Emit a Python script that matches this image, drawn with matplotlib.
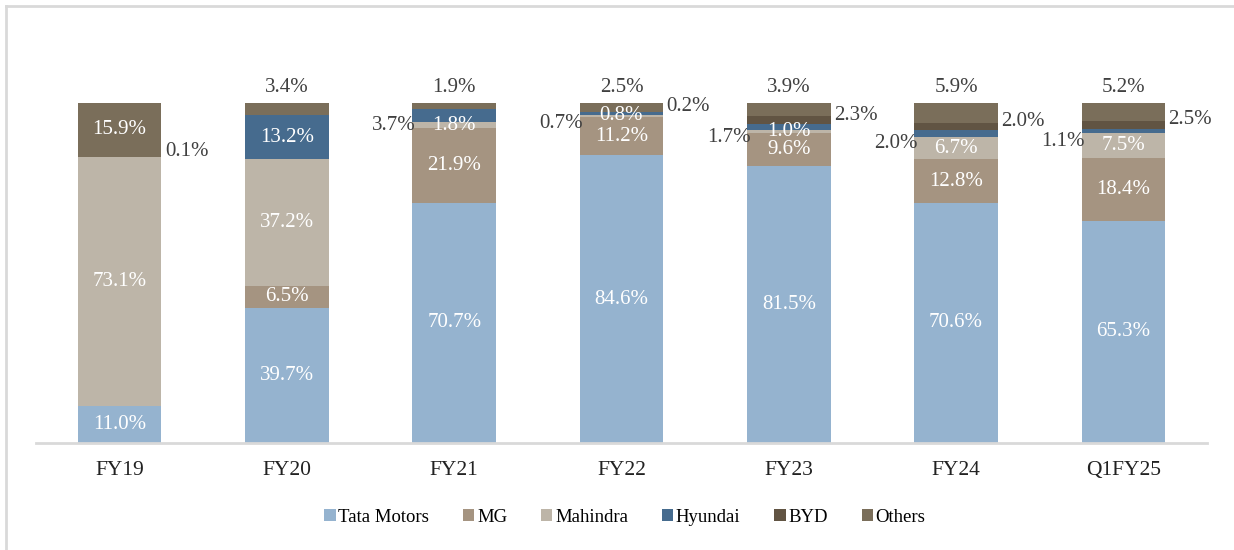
import matplotlib
matplotlib.use("Agg")
import matplotlib.pyplot as plt
from matplotlib.lines import Line2D
import numpy as np

plt.rcParams['font.family'] = ['Liberation Serif', 'DejaVu Serif']

years = ['FY19', 'FY20', 'FY21', 'FY22', 'FY23', 'FY24', 'Q1FY25']
tata = [11.0, 39.7, 70.7, 84.6, 81.5, 70.6, 65.3]
mg = [0.0, 6.5, 21.9, 11.2, 9.6, 12.8, 18.4]
mahindra = [73.1, 37.2, 1.8, 0.8, 1.0, 6.7, 7.5]
hyundai = [0.0, 13.2, 3.7, 0.7, 1.7, 2.0, 1.1]
byd = [0.1, 0.0, 0.0, 0.2, 2.3, 2.0, 2.5]
others = [15.9, 3.4, 1.9, 2.5, 3.9, 5.9, 5.2]

names = ['Tata Motors', 'MG', 'Mahindra', 'Hyundai', 'BYD', 'Others']
series = [tata, mg, mahindra, hyundai, byd, others]
colors = ['#95b3cf', '#a59481', '#bdb5a8', '#466b8e', '#615443', '#7a6e5a']
# where small values get their label: inside / left / right / top
spot = ['in', 'in', 'in', 'left', 'right', 'top']

fig = plt.figure(figsize=(12.34, 5.5), dpi=100)
ax = fig.add_axes([36 / 1234, 107 / 550, 1171 / 1234, 340 / 550])

x = np.arange(len(years))
w = 0.5
bottom = np.zeros(len(years))
for vals, name, c, s in zip(series, names, colors, spot):
    v = np.array(vals)
    ax.bar(x, v, w, bottom=bottom, color=c, label=name, linewidth=0)
    for i, val in enumerate(v):
        if val <= 0:
            continue
        mid = bottom[i] + val / 2
        if s == 'in' or val >= 10:
            ax.text(x[i], mid, f'{val:.1f}%', ha='center', va='center',
                    color='white', fontsize=15)
        elif s == 'left':
            ax.text(x[i] - w / 2 + 0.02, mid - 3, f'{val:.1f}%', ha='right',
                    va='center', color='#404040', fontsize=15)
        elif s == 'right':
            ax.text(x[i] + w / 2 + 0.02, mid + 1.5, f'{val:.1f}%', ha='left',
                    va='center', color='#404040', fontsize=15)
        else:
            ax.text(x[i], bottom[i] + val + 4.5, f'{val:.1f}%', ha='center',
                    va='center', color='#404040', fontsize=15)
    bottom += v

ax.set_xlim(-0.5, len(years) - 0.5)
ax.set_ylim(0, 100)
ax.set_xticks(x)
ax.set_xticklabels(years, fontsize=15.5, color='#222222')
ax.tick_params(axis='x', length=0, pad=13)
ax.set_yticks([])
for sp in ['top', 'right', 'left']:
    ax.spines[sp].set_visible(False)
ax.spines['bottom'].set_color('#d9d9d9')
ax.spines['bottom'].set_linewidth(2)

fig.legend(loc='center', bbox_to_anchor=(625 / 1234, 33 / 550), ncol=6,
           frameon=False, fontsize=13.5, handlelength=0.6, handleheight=0.6,
           handletextpad=0.15, columnspacing=1.8)

# light frame on left and top edges
fig.add_artist(Line2D([6 / 1234, 6 / 1234], [0, 1 - 6 / 550],
                      transform=fig.transFigure, color='#d9d9d9', lw=2))
fig.add_artist(Line2D([6 / 1234, 1], [1 - 6 / 550, 1 - 6 / 550],
                      transform=fig.transFigure, color='#d9d9d9', lw=2))

fig.savefig('out.png', dpi=100)
